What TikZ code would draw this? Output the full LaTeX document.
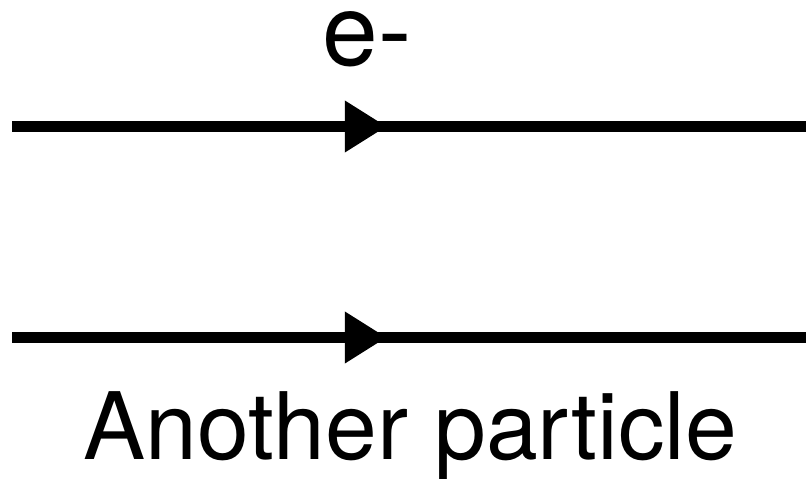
\documentclass[tikz,border=0pt]{standalone}
\usepackage{fontspec}
\setmainfont{TeX Gyre Heros}
\usepackage{tikz}
\usetikzlibrary{arrows.meta,decorations.markings}

\begin{document}
\begin{tikzpicture}[
    particle/.style={line width=0.22cm, black,
      postaction={decorate, decoration={markings,
        mark=at position 0.472 with {\arrow{Triangle[length=0.84cm, width=0.98cm]}}}}},
    label/.style={inner sep=0pt, anchor=base, text=black}]
    \useasboundingbox (0,0) rectangle (16.12,-9.56);

    \coordinate (ein) at (0.24,-2.53);
    \coordinate (eout) at (16.12,-2.53);
    \coordinate (pin) at (0.24,-6.75);
    \coordinate (pout) at (16.12,-6.75);

    \node[label, font=\fontsize{57}{60}\selectfont] (elabel) at (7.35,-1.32) {e-};
    \node[label, font=\fontsize{53}{56}\selectfont] (plabel) at (8.21,-9.18) {Another particle};

    \draw[particle] (ein) -- (eout);
    \draw[particle] (pin) -- (pout);
  \end{tikzpicture}
\end{document}
